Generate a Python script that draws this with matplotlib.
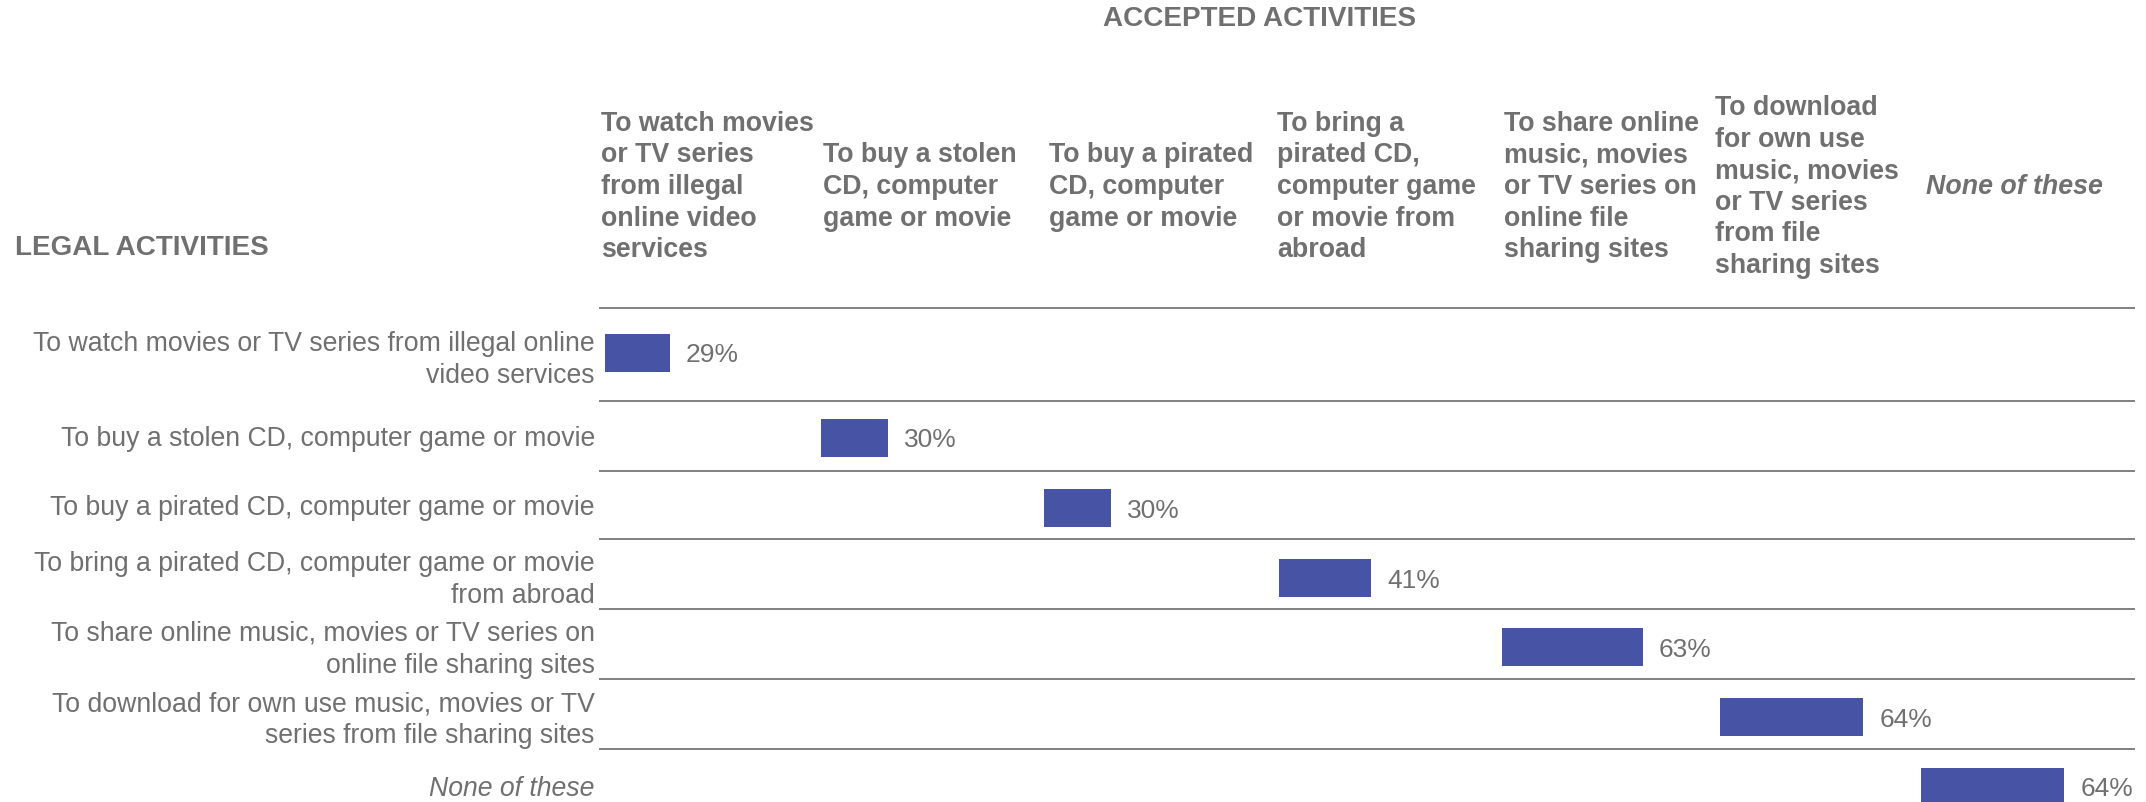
import numpy as np
import matplotlib.pyplot as plt
from matplotlib import transforms

plt.rcParams['font.family'] = ['Liberation Sans', 'DejaVu Sans']

# Rows: activities people think are legal
row_labels = [
    "To watch movies or TV series from illegal online\nvideo services",
    "To buy a stolen CD, computer game or movie",
    "To buy a pirated CD, computer game or movie",
    "To bring a pirated CD, computer game or movie\nfrom abroad",
    "To share online music, movies or TV series on\nonline file sharing sites",
    "To download for own use music, movies or TV\nseries from file sharing sites",
    "None of these",
]

# Columns: activities people accept
col_headers = [
    "To watch movies\nor TV series\nfrom illegal\nonline video\nservices",
    "To buy a stolen\nCD, computer\ngame or movie",
    "To buy a pirated\nCD, computer\ngame or movie",
    "To bring a\npirated CD,\ncomputer game\nor movie from\nabroad",
    "To share online\nmusic, movies\nor TV series on\nonline file\nsharing sites",
    "To download\nfor own use\nmusic, movies\nor TV series\nfrom file\nsharing sites",
    "None of these",
]

# share (%) on the diagonal cell of each row/column
values = [29, 30, 30, 41, 63, 64, 64]

TEXT = '#707070'
BAR = '#4753A4'
RULE = '#808080'

W, H = 2146, 802
fig = plt.figure(figsize=(W / 100, H / 100), dpi=100)

# table body: x in percent units, y in row units (one row ~ 70 px)
ax = fig.add_axes([599 / W, 0, 1536 / W, 494.3 / H])
xmax = 1536 / 2.24
ax.set_xlim(0, xmax)
ax.set_ylim(494.3 / 70, 0)

# row separators (row units from the top rule); labels sit mid-row,
# bars a little lower
edges = np.array([0, 1.33, 2.34, 3.30, 4.30, 5.30, 6.31, 7.37])
label_y = (edges[:-1] + edges[1:]) / 2
bar_y = [0.645, 1.86, 2.865, 3.865, 4.85, 5.85, 6.84]

# left edge of every column (bars) and of its header, in percent units
col_left = [2.7, 99.1, 198.7, 303.6, 403.1, 500.4, 590.2]
head_left = [0.9, 100.0, 200.9, 302.7, 404.0, 498.0, 592.4]

ax.hlines(edges[:-1], 0, xmax, color=RULE, lw=1.4, clip_on=False)
ax.barh(bar_y, values, left=col_left, height=0.54, color=BAR)

for x, y, v in zip(col_left, bar_y, values):
    ax.annotate(f"{v}%", (x + v, y), xytext=(11.5, 0), textcoords='offset points',
                ha='left', va='center_baseline', fontsize=19, color=TEXT)

ax.set_yticks(label_y, row_labels)
ax.tick_params(axis='y', length=0, pad=3, labelsize=19.2, labelcolor=TEXT)
for lab in ax.get_yticklabels():
    lab.set_linespacing(1.31)
ax.get_yticklabels()[-1].set_style('italic')
ax.set_xticks([])
for s in ax.spines.values():
    s.set_visible(False)

# column headers sit above the table, aligned with each column
trans = transforms.blended_transform_factory(ax.transData, fig.transFigure)
for i, (x, txt) in enumerate(zip(head_left, col_headers)):
    ax.text(x, 1 - 187 / H, txt, transform=trans, ha='left', va='center',
            fontsize=19.3, fontweight='bold', color=TEXT, linespacing=1.28,
            style='italic' if i == len(col_headers) - 1 else 'normal')

fig.text(1260 / W, 1 - 18.5 / H, "ACCEPTED ACTIVITIES", ha='center', va='center',
         fontsize=20.1, fontweight='bold', color=TEXT)
fig.text(15 / W, 1 - 248 / H, "LEGAL ACTIVITIES", ha='left', va='center',
         fontsize=20.1, fontweight='bold', color=TEXT)

fig.savefig('out.png', dpi=100)
